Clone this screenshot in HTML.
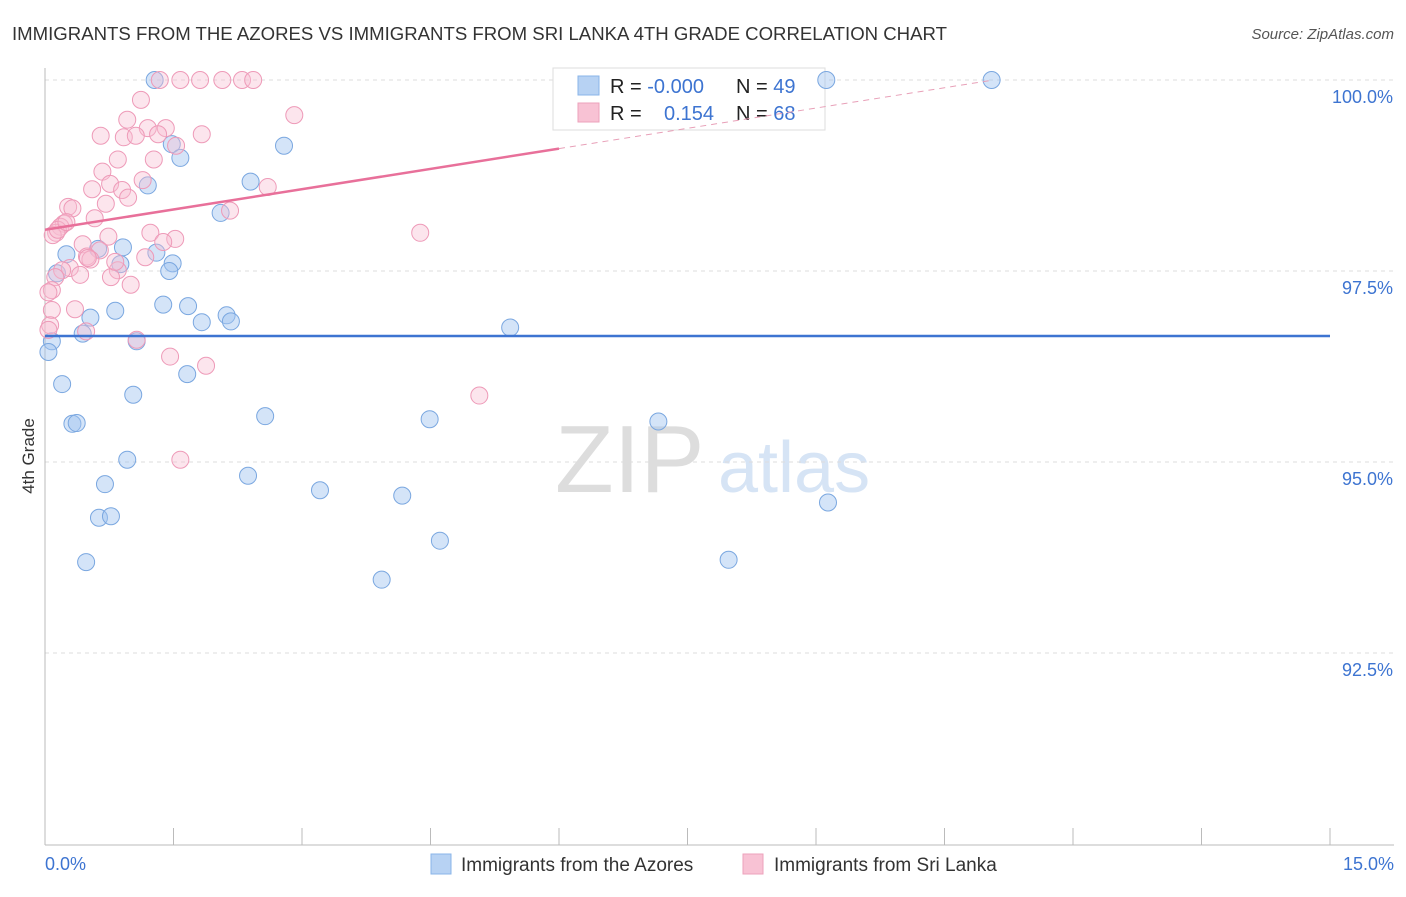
<!DOCTYPE html>
<html><head><meta charset="utf-8"><style>
body{margin:0;background:#fff;font-family:"Liberation Sans",sans-serif}
svg text{font-family:"Liberation Sans",sans-serif}
</style></head><body>
<svg id="c" width="1406" height="892">
<text x="12" y="40" font-size="18.6" fill="#333">IMMIGRANTS FROM THE AZORES VS IMMIGRANTS FROM SRI LANKA 4TH GRADE CORRELATION CHART</text>
<text x="1394" y="39" font-size="15" fill="#555" font-style="italic" text-anchor="end">Source: ZipAtlas.com</text>
<text x="34" y="456" font-size="17" fill="#333" text-anchor="middle" transform="rotate(-90 34 456)">4th Grade</text>
<text x="555" y="492" font-size="96" fill="#ddd" font-family="Liberation Serif">ZIP</text>
<text x="718" y="492" font-size="72" fill="#d6e4f5">atlas</text>
<g id="grid"></g>
<g>
<rect x="553" y="68" width="272" height="62" fill="#fff" stroke="#ddd"/>
<rect x="578" y="76" width="21" height="19" fill="#b7d2f3" stroke="#8ab4e8"/>
<rect x="578" y="103" width="21" height="19" fill="#f8c2d4" stroke="#eda2bb"/>
<text x="610" y="93" font-size="20" fill="#222">R = <tspan fill="#3d74d1">-0.000</tspan></text>
<text x="736" y="93" font-size="20" fill="#222">N = <tspan fill="#3d74d1">49</tspan></text>
<text x="610" y="120" font-size="20" fill="#222">R = <tspan x="664" fill="#3d74d1">0.154</tspan></text>
<text x="736" y="120" font-size="20" fill="#222">N = <tspan fill="#3d74d1">68</tspan></text>
</g>
<g id="marks"></g>
<g>
<rect x="431" y="854" width="20" height="20" fill="#b7d2f3" stroke="#8ab4e8"/>
<text x="461" y="871" font-size="19" fill="#333">Immigrants from the Azores</text>
<rect x="743" y="854" width="20" height="20" fill="#f8c2d4" stroke="#eda2bb"/>
<text x="774" y="871" font-size="19" fill="#333">Immigrants from Sri Lanka</text>
</g>
</svg>
<script>
const yTicks=[100,97.5,95,92.5];
const yTickLabels=["100.0%","97.5%","95.0%","92.5%"];
const xTicks=[0,1.5,3,4.5,6,7.5,9,10.5,12,13.5,15];
const azX=[1.28,9.12,11.05,2.79,1.48,1.58,1.2,2.4,2.05,0.91,0.62,0.25,1.3,0.88,1.49,0.14,1.45,1.38,1.67,0.82,0.53,2.12,1.83,2.17,5.43,0.44,1.07,0.08,0.04,1.66,0.2,1.03,2.57,4.49,7.16,0.32,0.37,0.96,2.37,3.21,0.7,4.17,9.14,0.63,0.77,4.61,0.48,7.98,3.93];
const azY=[100,100,100,99.14,99.16,98.98,98.62,98.67,98.26,97.81,97.79,97.72,97.74,97.59,97.6,97.47,97.5,97.06,97.04,96.98,96.89,96.92,96.83,96.84,96.76,96.68,96.58,96.58,96.44,96.15,96.02,95.88,95.6,95.56,95.53,95.5,95.51,95.03,94.82,94.63,94.71,94.56,94.47,94.27,94.29,93.97,93.69,93.72,93.46];
const slX=[1.34,1.58,1.81,2.07,2.3,2.43,1.12,2.91,0.65,0.96,1.2,1.41,1.32,0.92,1.06,1.83,1.53,0.85,1.27,0.67,1.14,0.76,0.55,0.9,0.97,0.71,0.27,2.16,0.32,2.6,0.58,0.22,0.18,0.13,0.09,1.23,4.38,1.52,0.74,0.44,1.38,0.64,0.49,0.53,1.17,0.85,0.29,0.2,0.41,0.12,0.77,1.0,0.08,0.04,0.35,0.08,0.06,0.04,0.48,1.07,1.46,1.88,5.07,1.58,0.5,0.82,0.15,0.25];
const slY=[100,100,100,100,100,100,99.74,99.54,99.27,99.48,99.37,99.37,99.29,99.25,99.27,99.29,99.14,98.96,98.96,98.8,98.69,98.64,98.57,98.56,98.46,98.38,98.34,98.29,98.32,98.6,98.19,98.12,98.08,98.0,97.97,98.0,98.0,97.92,97.95,97.85,97.88,97.77,97.69,97.65,97.68,97.51,97.54,97.51,97.45,97.42,97.42,97.32,97.25,97.22,97.0,96.99,96.79,96.73,96.71,96.6,96.38,96.26,95.87,95.03,97.67,97.62,98.04,98.14];
const xs=v=>45+v*(1285/15), ys=v=>80+(100-v)*76.4;
const ns="http://www.w3.org/2000/svg";
function mk(p,t,a){const e=document.createElementNS(ns,t);for(const k in a)e.setAttribute(k,a[k]);p.appendChild(e);return e;}
const g=document.getElementById('grid'),m=document.getElementById('marks');
yTicks.forEach((v,i)=>{
 const l=mk(g,'line',{x1:45,x2:1394,y1:ys(v),y2:ys(v),stroke:'#ddd','stroke-dasharray':'4,4'});
 
 
 const t=mk(g,'text',{x:1393,y:ys(v)+23,'font-size':18,fill:'#3d74d1','text-anchor':'end'});
 t.textContent=yTickLabels[i];
 
 
});
const ax=mk(g,'line',{x1:45,x2:1394,y1:845,y2:845,stroke:'#bbb'});


const ay=mk(g,'line',{x1:45,x2:45,y1:68,y2:845,stroke:'#bbb'});


xTicks.forEach(v=>{const t=mk(g,'line',{x1:xs(v),x2:xs(v),y1:828,y2:845,stroke:'#bbb'});
 
 });
[[0,"0.0%",'start',45],[15,"15.0%",'end',1394]].forEach(a=>{const t=mk(g,'text',{x:a[3],y:870,'font-size':18,fill:'#3d74d1','text-anchor':a[2]});t.textContent=a[1];
 
 });
azX.forEach((x,i)=>{const c=mk(m,'circle',{cx:xs(x),cy:ys(azY[i]),r:8.5,fill:'rgba(160,195,240,0.45)',stroke:'#7aa7e0','stroke-width':1});
 
 });
slX.forEach((x,i)=>{const c=mk(m,'circle',{cx:xs(x),cy:ys(slY[i]),r:8.5,fill:'rgba(248,190,210,0.4)',stroke:'#ee9ab8','stroke-width':1});
 
 });
const bl=mk(m,'line',{x1:xs(0),x2:xs(15),y1:ys(96.65),y2:ys(96.65),stroke:'#3d74d1','stroke-width':2.5});


const f=x=>98.04+0.177*x;
const pl=mk(m,'line',{x1:xs(0),x2:xs(6),y1:ys(f(0)),y2:ys(f(6)),stroke:'#e8709a','stroke-width':2.5});


const pd=mk(m,'line',{x1:xs(6),x2:xs(11.05),y1:ys(f(6)),y2:ys(f(11.05)),stroke:'#e8a0b8','stroke-width':1,'stroke-dasharray':'6,5'});


</script>
</body></html>
